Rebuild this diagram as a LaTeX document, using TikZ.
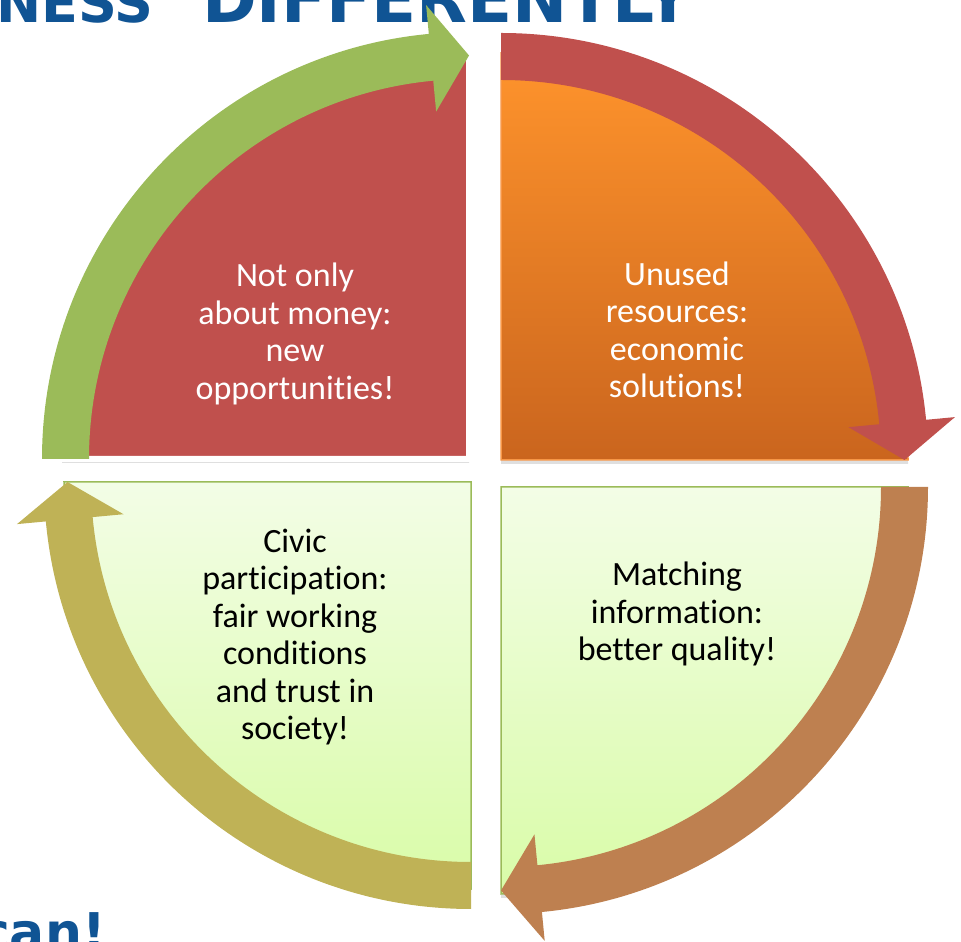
\documentclass[tikz,border=0pt]{standalone}
\usepackage{fontspec}
\usepackage{xcolor}
\usepackage{tikz}
\setmainfont[Ligatures=NoCommon]{Carlito}
\newfontfamily\headfont{DejaVu Sans}
\usetikzlibrary{shadows}

\definecolor{wedgered}{RGB}{192,80,77}
\definecolor{arrowgreen}{RGB}{155,187,89}
\definecolor{arrowolive}{RGB}{191,178,86}
\definecolor{arrowbrown}{RGB}{190,128,80}
\definecolor{orangetop}{RGB}{255,148,44}
\definecolor{orangebottom}{RGB}{202,101,30}
\definecolor{orangeline}{RGB}{247,150,70}
\definecolor{limetop}{RGB}{243,253,230}
\definecolor{limebottom}{RGB}{217,252,168}
\definecolor{limeline}{RGB}{155,187,89}
\definecolor{titleblue}{RGB}{16,84,148}

\begin{document}
\begin{tikzpicture}[x=1pt,y=1pt,
    wedge/.style={drop shadow={opacity=0.25,shadow xshift=0pt,shadow yshift=-4pt}},
    quadtext/.style={align=center,font=\fontsize{34}{37.5}\selectfont},
    headline/.style={font=\headfont\bfseries\fontsize{#1}{#1}\selectfont,text=titleblue,inner sep=0pt}]
    \clip (0,0) rectangle (961,942);

    % Heading, cut off by the page
    \node[headline=54,anchor=base west] (heading1) at (-4,919) {NESS};
    \node[headline=66,anchor=base west] (heading2) at (202,919) {DIFFERENTLY};
    \node[headline=52,anchor=base east] (slogan) at (106,-9) {can!};

    % Top left
    \filldraw[wedge,fill=wedgered,draw=white,line width=6pt] (469,483) -- (62,483)
        arc[start angle=180,end angle=90,radius=407] -- cycle;
    % Top right
    \filldraw[wedge,top color=orangetop,bottom color=orangebottom,draw=orangeline,line width=1.5pt]
        (501,482) -- (501,889) arc[start angle=90,end angle=0,radius=407] -- cycle;
    % Bottom right
    \filldraw[wedge,top color=limetop,bottom color=limebottom,draw=limeline,line width=1.5pt]
        (501,455) -- (908,455) arc[start angle=0,end angle=-90,radius=407] -- cycle;
    % Bottom left
    \filldraw[wedge,top color=limetop,bottom color=limebottom,draw=limeline,line width=1.5pt]
        (471,460) -- (471,53) arc[start angle=-90,end angle=-180,radius=407] -- cycle;

    % Arrows round the circle
    \fill[arrowgreen,shift={(469,483)}] (180:427) arc[start angle=180,end angle=95.4,radius=427]
        -- (95.4:456) -- (90:403.5) -- (95.4:349) -- (95.4:380)
        arc[start angle=95.4,end angle=180,radius=380] -- cycle;
    \fill[wedgered,shift={(501,482)}] (90:427) arc[start angle=90,end angle=5.4,radius=427]
        -- (5.4:456) -- (0:403.5) -- (5.4:349) -- (5.4:380)
        arc[start angle=5.4,end angle=90,radius=380] -- cycle;
    \fill[arrowbrown,shift={(501,455)}] (0:427) arc[start angle=0,end angle=-84.5,radius=427]
        -- (-84.5:456) -- (-90:403.5) -- (-84.5:349) -- (-84.5:380)
        arc[start angle=-84.5,end angle=0,radius=380] -- cycle;
    \fill[arrowolive,shift={(471,460)}] (-90:427) arc[start angle=-90,end angle=-174.7,radius=427]
        -- (-174.7:456) -- (-180:403.5) -- (-174.7:349) -- (-174.7:380)
        arc[start angle=-174.7,end angle=-90,radius=380] -- cycle;

    % Texts
    \node[quadtext,text=white] (money) at (295,608) {Not only\\about money:\\new\\opportunities!};
    \node[quadtext,text=white] (resources) at (677,612) {Unused\\resources:\\economic\\solutions!};
    \node[quadtext] (civic) at (295,305) {Civic\\participation:\\fair working\\conditions\\and trust in\\society!};
    \node[quadtext] (matching) at (677,328) {Matching\\information:\\better quality!};
\end{tikzpicture}
\end{document}
